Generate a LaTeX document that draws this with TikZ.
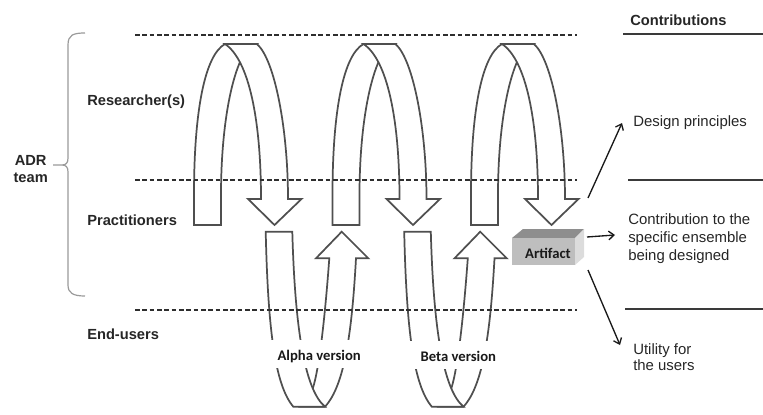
\documentclass[tikz,border=0pt]{standalone}
\usepackage{fontspec}
\setmainfont{Liberation Sans}
\newfontfamily\calfont{Carlito}
\usetikzlibrary{arrows.meta}
\definecolor{loopgray}{HTML}{4F4F4F}
\definecolor{dashgray}{HTML}{2E2E2E}
\definecolor{rulegray}{HTML}{3A3A3A}
\definecolor{bracegray}{HTML}{9A9A9A}
\definecolor{boxfront}{HTML}{BEBEBE}
\definecolor{boxtop}{HTML}{8E8E8E}
\definecolor{boxside}{HTML}{DCDCDC}
\newcommand\myRoleFont{\bfseries\fontsize{11}{13}\selectfont}
\newcommand\myContribFont{\fontsize{11.2}{13.5}\selectfont}
\newcommand\myVerFont{\calfont\bfseries\fontsize{11}{13}\selectfont}
\tikzset{
  band/.style={draw=loopgray, line width=1.3pt, fill=white, line join=miter},
  lane/.style={draw=dashgray, line width=1.1pt, dash pattern=on 3.4pt off 2.1pt},
  rulerline/.style={draw=rulegray, line width=0.8pt},
  role/.style={font=\myRoleFont, anchor=base west, inner sep=0pt, text=black!85},
  contrib/.style={font=\myContribFont, anchor=north west, align=left, inner sep=0pt, text=black!85},
  version/.style={font=\myVerFont, anchor=base, inner sep=0pt, fill=white,
     text height=15.5pt, text depth=5.5pt, minimum width=72pt, text=black!90},
  outarrow/.style={-{Straight Barb[length=4pt,width=6.5pt]}, line width=1pt, black!90},
}
\begin{document}
\begin{tikzpicture}[x=0.75pt,y=-0.75pt]
\useasboundingbox (0,0) rectangle (763,414);

% ---- researcher loops (top) ----
\foreach \k in {0,1,2}{
  \begin{scope}[xshift=\k*103.875pt]
    % back (ascending) band
    \draw[band] (194,225) -- (194,195) .. controls (194,110) and (205,55) .. (225,44)
       -- (257,44) -- (240,62) .. controls (228,90) and (221,140) .. (221,195) -- (221,225) -- cycle;
    % front (descending) band with arrow head
    \draw[band] (225,44) .. controls (249,60) and (261,120) .. (261,199) -- (248,199)
       -- (274.5,225) -- (301.5,199) -- (288,199) .. controls (288,130) and (275,60) .. (257,44) -- cycle;
  \end{scope}
}

% ---- practitioner / end-user loops (bottom) ----
\foreach \k in {0,1}{
  \begin{scope}[xshift=\k*103.875pt]
    % back (ascending) band with arrow head
    \draw[band] (341.7,231.7) -- (368.3,258.3) -- (356,258.3) .. controls (352,330) and (345,385) .. (325,406.7)
       -- (300,406.7) -- (311.7,391.7) .. controls (318,375) and (324,330) .. (329.3,258.3) -- (316,258.3) -- cycle;
    % front (descending) band
    \draw[band] (265.7,231.7) -- (292.3,231.7) .. controls (295,330) and (305,390) .. (325,406.7)
       -- (293.3,406.7) .. controls (275,385) and (268,330) .. (265.7,231.7) -- cycle;
  \end{scope}
}

\node[version] (alpha) at (319.2,360.7) {Alpha version};
\node[version] (beta) at (458.3,361.2) {Beta version};

% ---- dashed lane separators ----
\draw[lane] (135,35) -- (577,35);
\draw[lane] (135,180) -- (577,180);
\draw[lane] (135,310) -- (577,310);

% ---- contribution rules ----
\draw[rulerline] (623,34) -- (763,34);
\draw[rulerline] (628,180) -- (763,180);
\draw[rulerline] (625,309) -- (763,309);

% ---- brace ----
\draw[bracegray, line width=0.9pt] (85,33) .. controls (73,33) and (68,35) .. (68,45) -- (68,158)
   .. controls (68,163) and (66,165) .. (62,165) -- (53,165) -- (62,165)
   .. controls (66,165) and (68,167) .. (68,172) -- (68,285) .. controls (68,293) and (73,296) .. (85,296);

% ---- labels ----
\node[font=\myRoleFont, anchor=base, inner sep=0pt, align=center, text=black!85] (adr) at (30.7,165) {ADR};
\node[font=\myRoleFont, anchor=base, inner sep=0pt, text=black!85] (team) at (30.7,182.3) {team};
\node[role] (researchers) at (87,105) {Researcher(s)};
\node[role] (practitioners) at (87,225) {Practitioners};
\node[role] (endusers) at (87,339.3) {End-users};

\node[font=\myRoleFont, anchor=base west, inner sep=0pt, text=black!85] (contributions) at (630,25) {Contributions};
\node[font=\myContribFont, anchor=base west, inner sep=0pt, text=black!85] (design) at (633,126) {Design principles};
\node[contrib] (ensemble) at (628,213.1) {Contribution to the\\specific ensemble\\being designed};
\node[contrib, font=\fontsize{11.2}{12.3}\selectfont] (utility) at (633,343.4) {Utility for\\the users};

% ---- artifact box ----
\fill[boxtop] (512,238) -- (523,229) -- (584,229) -- (575,238) -- cycle;
\fill[boxside] (575,238) -- (584,229) -- (584,257) -- (575,265) -- cycle;
\node[fill=boxfront, minimum width=47.25pt, minimum height=20.25pt, inner sep=0pt] (artifact) at (543.5,251.5) {};
\node[font=\myVerFont, anchor=base, inner sep=0pt, text=black!90] (artifactlabel) at (548,258.3) {Artifact};

% ---- contribution arrows ----
\coordinate (dpFrom) at (588,198);
\coordinate (dpTo) at (622,123);
\coordinate (enFrom) at (587,237);
\coordinate (enTo) at (615,235);
\coordinate (utFrom) at (588,270);
\coordinate (utTo) at (620,345);
\draw[outarrow] (dpFrom) -- (dpTo);
\draw[outarrow] (enFrom) -- (enTo);
\draw[outarrow] (utFrom) -- (utTo);
\end{tikzpicture}
\end{document}
